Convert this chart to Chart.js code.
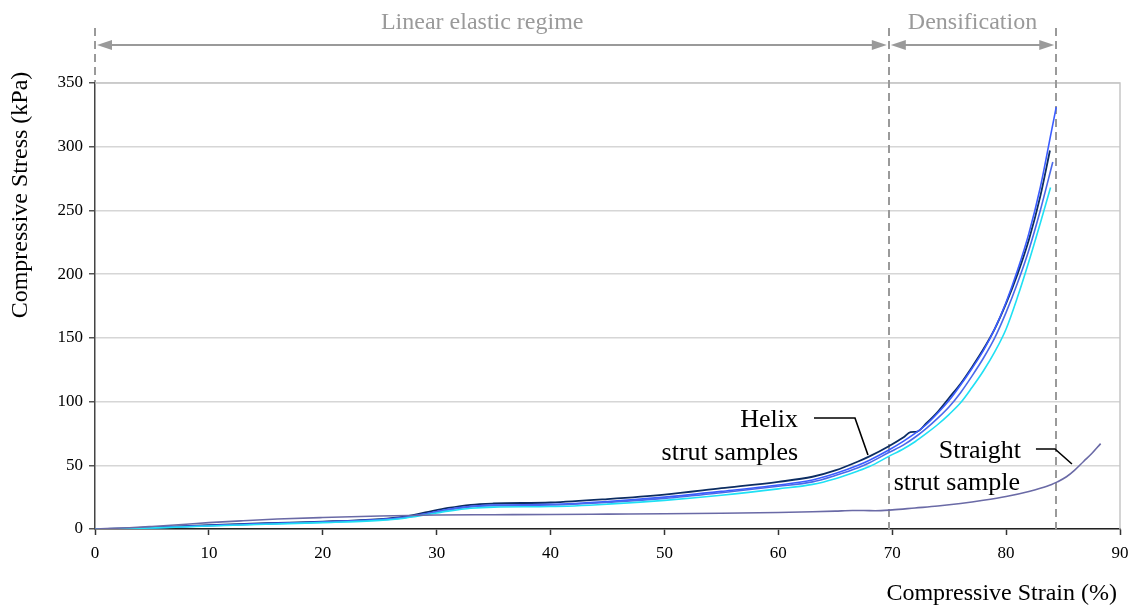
<!DOCTYPE html>
<html><head><meta charset="utf-8">
<script src="https://cdn.jsdelivr.net/npm/chart.js@4/dist/chart.umd.min.js"></script>
<style>html,body{margin:0;padding:0;background:#fff}#wrap{width:1128px;height:605px;position:relative}canvas{display:block}</style>
</head><body><div id="wrap"><canvas id="c" width="1128" height="605"></canvas></div>
<script>
// ---- tick labels / axes ----
const xTickValues = [0,10,20,30,40,50,60,70,80,90];
const yTickValues = [0,50,100,150,200,250,300,350];
const xTitle = 'Compressive Strain (%)';
const yTitle = 'Compressive Stress (kPa)';

// ---- regime boundaries (strain %) and labels ----
const regimeBounds = [0, 69.7, 84.4];
const regimeLabels = ['Linear elastic regime', 'Densification'];

// ---- Helix strut sample 1 (dark navy) ----
const helix1Strain = [0,3,6,10,15,20,25,27,29,31,33,35,40,45,50,55,60,63,65,67,68,69.7,71,71.6,72.2,73,74,75,76,77,78,79,80,81,82,83,83.85];
const helix1Stress = [0,0.5,1.6,3,4.5,5.8,7.8,9.5,13,16.5,19,20,20.8,23.5,27,32,37,41,46,53,57,65,72,76,76.5,83,92,103,114,127,141,157,177,200,227,261,297];

// ---- Helix strut sample 2 (bright blue) ----
const helix2Strain = [0,3,6,10,15,20,25,27,29,31,33,35,40,45,50,55,60,63,65,67,68,69.7,71,72,73,74,75,76,77,78,79,80,81,82,83,84,84.4];
const helix2Stress = [0,0.4,1.4,2.7,4.2,5.5,7.4,9,12,15.5,17.8,18.8,19.3,21.5,25,29.5,34.5,38.5,43.5,50,54,62,69,75,82,91,101,113,126,140,157,178,203,232,268,313,331];

// ---- Helix strut sample 3 (medium blue) ----
const helix3Strain = [0,3,6,10,15,20,25,27,29,31,33,35,40,45,50,55,60,63,65,67,68,69.7,71,72,73,74,75,76,77,78,79,80,81,82,83,84.1];
const helix3Stress = [0,0.4,1.3,2.6,4,5.3,7.2,8.7,11.8,15,17.3,18.2,18.8,20.8,24,28.5,33.5,37,42,48,52,60,66,72,79,87,96,107,120,134,150,170,193,219,250,288];

// ---- Helix strut sample 4 (cyan) ----
const helix4Strain = [0,3,6,10,15,20,25,27,29,31,33,35,40,45,50,55,60,63,65,67,68,69.7,71,72,73,74,75,76,77,78,79,80,81,82,83,83.9];
const helix4Stress = [0,0.3,1.1,2.3,3.7,5,6.8,8.3,11,14,16.3,17.2,17.6,19.5,22.5,26.5,31.5,35,39.5,45.5,49,57,63,68.5,75,82,90,99,111,124,139,157,182,210,240,268];

// ---- Straight strut sample ----
const straightStrain = [0,3,5,8,10,13,16,20,25,30,35,40,45,50,55,60,63,65,66.5,67.5,68.5,70,72,74,76,78,80,82,83,84,84.5,85.3,86,86.8,87.5,88.3];
const straightStress = [0,1,2,3.7,5,6.5,7.8,9,10.2,11,11.2,11.4,11.7,12,12.4,13,13.5,14,14.5,14.5,14.3,15,16.5,18,20,22.5,25.5,29.5,32,35,37,41,46,53,59,67];

function pts(xs, ys){ return xs.map((v,i)=>({x:v, y:ys[i]})); }

const FONT = '"Liberation Serif", "Times New Roman", Times, serif';

function lineDs(label, xs, ys, color, w){
  return {label, data: pts(xs,ys), borderColor: color, backgroundColor: color, borderWidth: w,
          pointRadius: 0, fill: false, cubicInterpolationMode: 'monotone'};
}

function arrowHead(ctx, tipX, y, dir){
  ctx.beginPath();
  ctx.moveTo(tipX, y);
  ctx.lineTo(tipX + dir*15, y - 5);
  ctx.lineTo(tipX + dir*15, y + 5);
  ctx.closePath();
  ctx.fill();
}

const overlay = {
  id: 'overlay',
  beforeDatasetsDraw(chart){
    const {ctx, chartArea: a, scales: {x}} = chart;
    ctx.save();
    ctx.strokeStyle = '#c6c6c6'; ctx.lineWidth = 1.5;
    ctx.beginPath(); ctx.moveTo(a.left, a.top); ctx.lineTo(a.right, a.top); ctx.lineTo(a.right, a.bottom); ctx.stroke();
    ctx.strokeStyle = '#9a9a9a'; ctx.lineWidth = 2; ctx.setLineDash([8,5]);
    regimeBounds.forEach((s, i) => {
      const px = Math.round(x.getPixelForValue(s));
      ctx.beginPath(); ctx.moveTo(px, a.top - 55); ctx.lineTo(px, i === 0 ? a.top - 1 : a.bottom); ctx.stroke();
    });
    ctx.restore();
  },
  afterDatasetsDraw(chart){
    const {ctx, chartArea: a, scales: {x, y}} = chart;
    ctx.save();
    // regime arrows
    const ay = a.top - 38;
    ctx.strokeStyle = '#9a9a9a'; ctx.fillStyle = '#9a9a9a'; ctx.lineWidth = 2;
    for (let i = 0; i < regimeBounds.length - 1; i++){
      const x1 = x.getPixelForValue(regimeBounds[i]) + 2;
      const x2 = x.getPixelForValue(regimeBounds[i+1]) - 2;
      ctx.beginPath(); ctx.moveTo(x1 + 10, ay); ctx.lineTo(x2 - 10, ay); ctx.stroke();
      arrowHead(ctx, x1, ay, 1);
      arrowHead(ctx, x2, ay, -1);
      ctx.font = '24px ' + FONT; ctx.textAlign = 'center'; ctx.textBaseline = 'alphabetic';
      const cx = i === 0 ? x.getPixelForValue(34) : (x1 + x2) / 2;
      ctx.fillText(regimeLabels[i], cx, a.top - 54);
    }
    // annotations
    ctx.fillStyle = '#000'; ctx.strokeStyle = '#000'; ctx.lineWidth = 1.6;
    ctx.font = '26px ' + FONT; ctx.textAlign = 'right'; ctx.textBaseline = 'alphabetic';
    ctx.fillText('Helix', x.getPixelForValue(61.73), y.getPixelForValue(80.0));
    ctx.fillText('strut samples', x.getPixelForValue(61.73), y.getPixelForValue(54.1));
    ctx.beginPath();
    ctx.moveTo(x.getPixelForValue(63.13), y.getPixelForValue(87.1));
    ctx.lineTo(x.getPixelForValue(66.73), y.getPixelForValue(87.1));
    ctx.lineTo(x.getPixelForValue(67.87), y.getPixelForValue(58.1));
    ctx.stroke();
    ctx.fillText('Straight', x.getPixelForValue(81.31), y.getPixelForValue(55.7));
    ctx.fillText('strut sample', x.getPixelForValue(81.22), y.getPixelForValue(30.6));
    ctx.beginPath();
    ctx.moveTo(x.getPixelForValue(82.62), y.getPixelForValue(62.8));
    ctx.lineTo(x.getPixelForValue(84.29), y.getPixelForValue(62.8));
    ctx.lineTo(x.getPixelForValue(85.78), y.getPixelForValue(51.0));
    ctx.stroke();
    // axis titles
    ctx.font = '24px ' + FONT;
    ctx.textAlign = 'right';
    ctx.fillText(xTitle, a.right - 3, 600);
    ctx.translate(21, 195);
    ctx.rotate(-Math.PI/2);
    ctx.textAlign = 'center'; ctx.textBaseline = 'middle';
    ctx.fillText(yTitle, 0, 0);
    ctx.restore();
  }
};

new Chart(document.getElementById('c'), {
  type: 'line',
  data: {
    datasets: [
      lineDs('Straight strut sample', straightStrain, straightStress, '#6a6aa6', 1.6),
      lineDs('Helix 4', helix4Strain, helix4Stress, '#1fe0f4', 1.6),
      lineDs('Helix 3', helix3Strain, helix3Stress, '#4a68ea', 1.6),
      lineDs('Helix 2', helix2Strain, helix2Stress, '#3a5cff', 1.6),
      lineDs('Helix 1', helix1Strain, helix1Stress, '#0c2d62', 1.8)
    ]
  },
  options: {
    responsive: false, animation: false, devicePixelRatio: 1,
    layout: { padding: { left: 0, top: 83, right: 8, bottom: 0 } },
    plugins: { legend: { display: false }, tooltip: { enabled: false } },
    scales: {
      x: {
        type: 'linear', min: 0, max: 90,
        afterBuildTicks(s){ s.ticks = xTickValues.map(v => ({value: v})); },
        afterFit(s){ s.height = 76; s.paddingLeft = 0; s.paddingRight = 0; },
        grid: { drawOnChartArea: false, drawTicks: true, tickLength: 6, tickColor: '#333', tickWidth: 1.5 },
        border: { display: true, color: '#222', width: 1.5 },
        ticks: { color: '#000', font: { family: FONT, size: 17 }, padding: 8, maxRotation: 0, autoSkip: false }
      },
      y: {
        type: 'linear', min: 0, max: 350,
        afterBuildTicks(s){ s.ticks = yTickValues.map(v => ({value: v})); },
        afterFit(s){ s.width = 95; s.paddingTop = 0; s.paddingBottom = 0; },
        grid: { color: '#d6d6d6', lineWidth: 1.5, drawTicks: true, tickLength: 6, tickColor: '#555' },
        border: { display: true, color: '#444', width: 1.5 },
        ticks: { color: '#000', font: { family: FONT, size: 17 }, padding: 6, autoSkip: false }
      }
    }
  },
  plugins: [overlay]
});
</script></body></html>
